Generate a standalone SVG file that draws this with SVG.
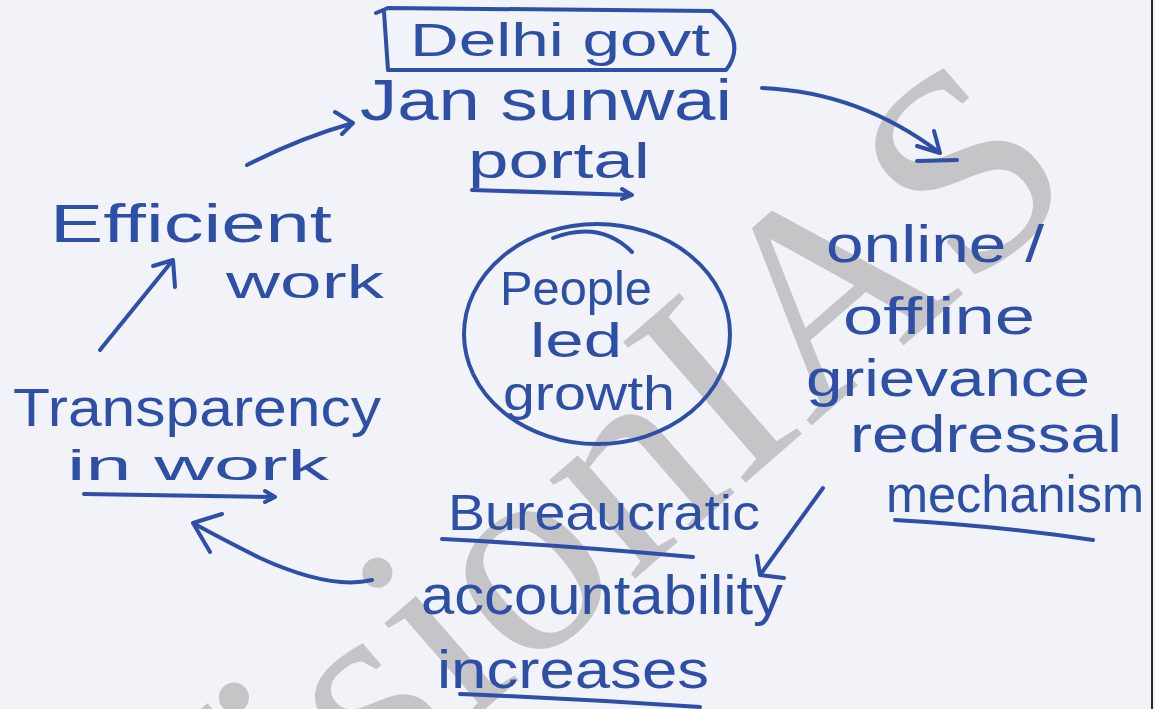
<svg xmlns="http://www.w3.org/2000/svg" width="1155" height="709" viewBox="0 0 1155 709">
<style>
.ink{fill:#2d4fa6;font-family:"Liberation Sans","DejaVu Sans",sans-serif;}
.ln{fill:none;stroke:#2d4fa6;stroke-width:4;stroke-linecap:round;stroke-linejoin:round;}
.wm{fill:#c5c5c8;font-family:"Liberation Serif",serif;font-size:285px;}
</style>
<rect x="0" y="0" width="1155" height="709" fill="#f2f3f9"/>
<g id="watermark">
<text class="wm" transform="translate(177,977) rotate(-41)">VisionIAS</text>
</g>
<line x1="1152" y1="0" x2="1152" y2="709" stroke="#2a2a2e" stroke-width="2"/>
<g id="delhi-govt">
<path class="ln" d="M376,13 L388,8 L712,11 Q748,42 726,70 L388,70 L384,12"/>
<text class="ink" x="410" y="56" font-size="46" textLength="300" lengthAdjust="spacingAndGlyphs">Delhi govt</text>
</g>
<g id="jan-sunwai">
<text class="ink" x="360" y="120" font-size="58" textLength="372" lengthAdjust="spacingAndGlyphs">Jan sunwai</text>
<text class="ink" x="468" y="178" font-size="50" textLength="182" lengthAdjust="spacingAndGlyphs">portal</text>
<path class="ln" d="M472,190 L632,195 M622,189 L632,195 L622,199"/>
</g>
<g id="online-offline">
<text class="ink" x="826" y="262" font-size="52" textLength="218" lengthAdjust="spacingAndGlyphs">online /</text>
<text class="ink" x="843" y="334" font-size="52" textLength="192" lengthAdjust="spacingAndGlyphs">offline</text>
<text class="ink" x="806" y="396" font-size="52" textLength="284" lengthAdjust="spacingAndGlyphs">grievance</text>
<text class="ink" x="850" y="452" font-size="52" textLength="272" lengthAdjust="spacingAndGlyphs">redressal</text>
<text class="ink" x="886" y="512" font-size="52" textLength="258" lengthAdjust="spacingAndGlyphs">mechanism</text>
<path class="ln" d="M895,520 Q1000,526 1093,540"/>
</g>
<g id="bureaucratic">
<text class="ink" x="448" y="530" font-size="50" textLength="312" lengthAdjust="spacingAndGlyphs">Bureaucratic</text>
<path class="ln" d="M442,539 Q560,545 693,557"/>
<text class="ink" x="421" y="614" font-size="56" textLength="362" lengthAdjust="spacingAndGlyphs">accountability</text>
<text class="ink" x="437" y="688" font-size="54" textLength="272" lengthAdjust="spacingAndGlyphs">increases</text>
<path class="ln" d="M460,694 Q580,699 700,707"/>
</g>
<g id="transparency">
<text class="ink" x="13" y="426" font-size="54" textLength="368" lengthAdjust="spacingAndGlyphs">Transparency</text>
<text class="ink" x="67" y="480" font-size="42" textLength="262" lengthAdjust="spacingAndGlyphs">in work</text>
<path class="ln" d="M84,494 L275,497 M265,491 L275,497 L265,502"/>
</g>
<g id="efficient-work">
<text class="ink" x="50" y="242" font-size="54" textLength="282" lengthAdjust="spacingAndGlyphs">Efficient</text>
<text class="ink" x="226" y="298" font-size="46" textLength="158" lengthAdjust="spacingAndGlyphs">work</text>
</g>
<g id="people-led-growth">
<ellipse class="ln" cx="597" cy="334" rx="133" ry="110" stroke-width="3.5"/>
<path class="ln" d="M553,238 Q600,220 632,252" stroke-width="3"/>
<text class="ink" x="500" y="305" font-size="48" textLength="152" lengthAdjust="spacingAndGlyphs">People</text>
<text class="ink" x="530" y="357" font-size="48" textLength="92" lengthAdjust="spacingAndGlyphs">led</text>
<text class="ink" x="503" y="410" font-size="48" textLength="172" lengthAdjust="spacingAndGlyphs">growth</text>
</g>
<g id="connectors">
<path class="ln" d="M247,165 Q300,138 353,123 M335,112 L353,123 L342,134"/>
<path class="ln" d="M762,88 Q860,92 940,153 M934,131 L940,153 L917,146 M917,161 L957,160"/>
<path class="ln" d="M823,488 L760,575 M757,556 L760,575 L784,578"/>
<path class="ln" d="M372,580 Q330,590 260,558 Q220,538 193,523 M222,514 L193,523 L210,552"/>
<path class="ln" d="M100,350 L173,260 M153,266 L173,260 L175,287"/>
</g>
</svg>
